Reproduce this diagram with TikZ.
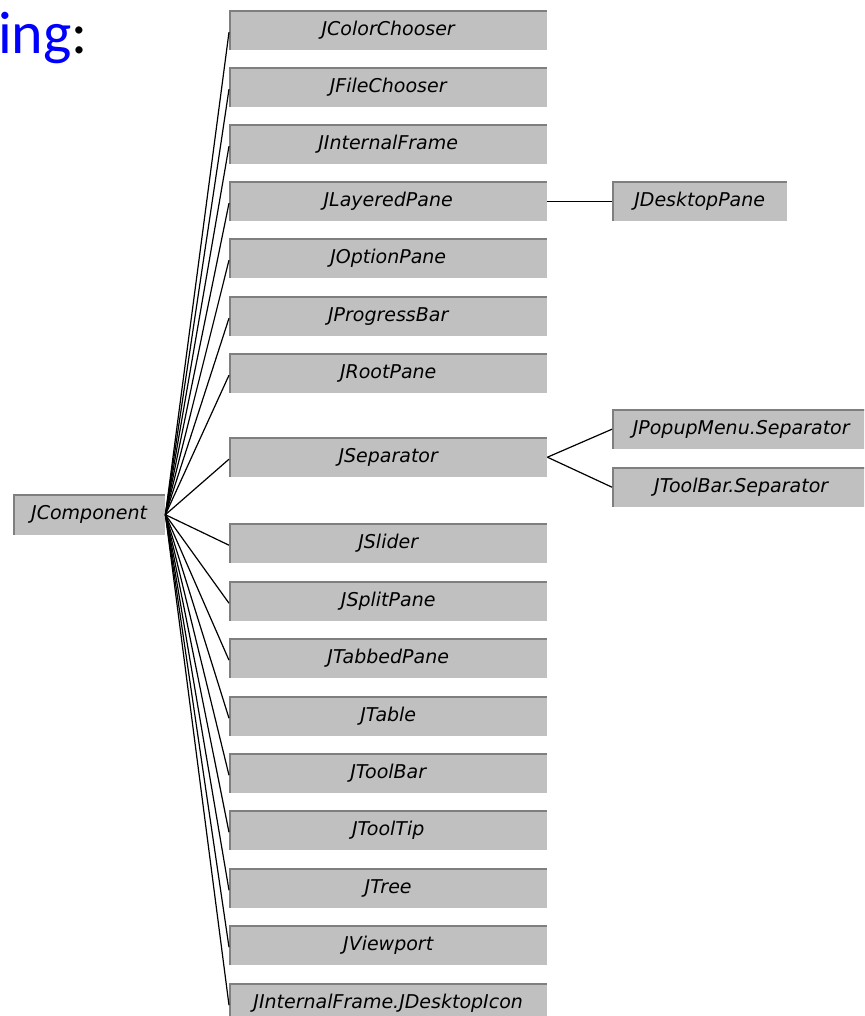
\documentclass[tikz,border=0pt]{standalone}
\usepackage{fontspec}
\newfontfamily\clsfont{DejaVu Sans}
\newfontfamily\titlefont{Carlito}
\definecolor{boxgray}{HTML}{C0C0C0}
\definecolor{edgegray}{HTML}{7F7F7F}
\definecolor{titleblue}{HTML}{0000FF}
\begin{document}
\begin{tikzpicture}[x=1pt,y=-1pt,
  cls/.style={fill=boxgray, inner sep=0pt, minimum height=40pt, anchor=north west,
    font=\clsfont\itshape\fontsize{19}{22}\selectfont,
    path picture={\draw[edgegray, line width=3pt]
      (path picture bounding box.south west) -- (path picture bounding box.north west)
      -- (path picture bounding box.north east);}},
  mid/.style={cls, minimum width=318pt},
  side/.style={cls, minimum width=258pt},
  link/.style={draw=black, line width=1.2pt}]
\useasboundingbox (0,0) rectangle (864,1016);
\clip (0,0) rectangle (864,1016);
\node[anchor=base west, text=titleblue, inner sep=0pt,
  font=\titlefont\fontsize{60}{64}\selectfont] (title) at (-2,54) {ing\textcolor{black}{:}};
\node[cls, minimum width=152pt, minimum height=41pt] (comp) at (13,494) {JComponent};
\foreach \nm/\tp/\lab in {
  cc/10/JColorChooser, fc/67/JFileChooser, ifr/124/JInternalFrame,
  lp/181/JLayeredPane, op/238/JOptionPane, pb/296/JProgressBar,
  rp/353/JRootPane, sep/437/JSeparator, sl/523/JSlider,
  spl/581/JSplitPane, tp/638/JTabbedPane, tb/696/JTable,
  tlb/753/JToolBar, tt/810/JToolTip, tr/868/JTree,
  vp/925/JViewport, di/983/JInternalFrame.JDesktopIcon} {
  \node[mid] (\nm) at (229,\tp) {\lab};
  \draw[link] (comp.east) -- ([yshift=-2pt]\nm.west);
}
\node[cls, minimum width=175pt] (dp) at (612,181) {JDesktopPane};
\node[side] (pms) at (612,409) {JPopupMenu.Separator};
\node[side] (tbs) at (612,467) {JToolBar.Separator};
\draw[link] (lp.east) -- (dp.west);
\draw[link] (sep.east) -- (pms.west);
\draw[link] (sep.east) -- (tbs.west);
\end{tikzpicture}
\end{document}
